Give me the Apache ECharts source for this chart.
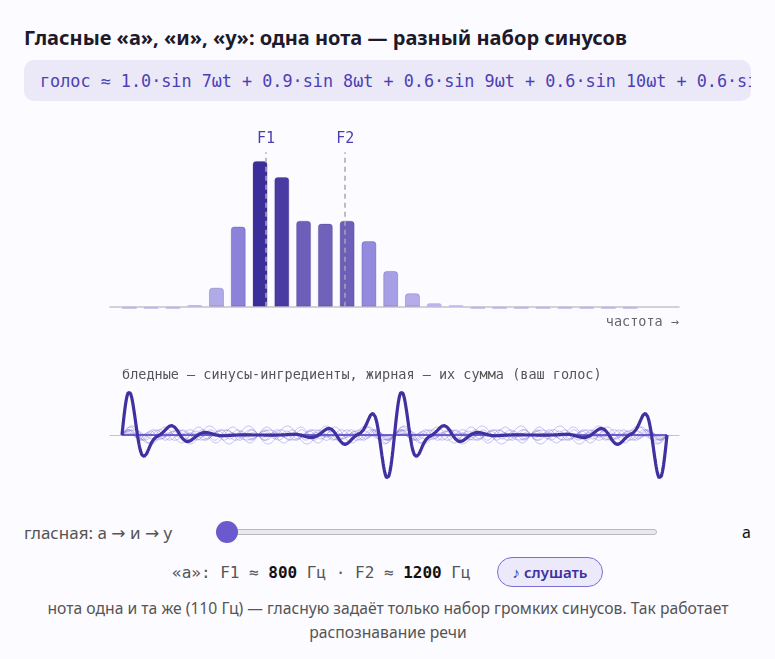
<!DOCTYPE html>
<html>
<head>
<meta charset="utf-8">
<script src="https://cdn.jsdelivr.net/npm/echarts@6/dist/echarts.min.js"></script>
<style>
  body { margin: 0; background: #fcfbff; width: 775px; height: 659px; overflow: hidden; position: relative; font-family: "Noto Sans", sans-serif; }
  .abs { position: absolute; white-space: nowrap; }
  .arr { font-family: "DejaVu Sans", sans-serif; }
  #title { left: 24px; top: 27px; line-height: 22px; font-size: 20px; font-weight: 700; color: #1c1a2b; }
  #formula { left: 24px; top: 60px; width: 727px; height: 41px; border-radius: 10px; background: #ebe8f8; overflow: hidden; }
  #formula span { position: absolute; left: 16px; top: 11px; line-height: 20px; font-size: 16.8px; font-family: "DejaVu Sans Mono", monospace; color: #4b3fb5; white-space: nowrap; }
  #chart { left: 0; top: 105px; width: 775px; height: 400px; }
  #vlabel { left: 24px; top: 521px; line-height: 24px; font-size: 17px; color: #555; }
  #track { left: 222px; top: 529px; width: 433px; height: 4px; border: 1px solid #b8b8c2; border-radius: 3px; background: #e8e8ee; }
  #thumb { left: 216px; top: 521px; width: 22px; height: 22px; border-radius: 50%; background: #6a5acd; }
  #vval { left: 742px; top: 521px; line-height: 22px; font-size: 16px; color: #111; }
  #formants { left: 172px; top: 562px; line-height: 22px; font-size: 16px; font-family: "DejaVu Sans Mono", monospace; color: #555; }
  #formants b { color: #111; }
  #play { left: 497px; top: 557px; width: 104px; height: 28px; border: 1.5px solid #7b6fd6; border-radius: 16px; background: #ece9fa;
          text-align: center; line-height: 28px; font-size: 15px; font-weight: 600; color: #3d32a0; }
  #note { left: 24px; top: 596px; width: 728px; text-align: center; line-height: 24px; font-size: 15.7px; color: #555; white-space: normal; }
</style>
</head>
<body>
<div id="title" class="abs">Гласные «а», «и», «у»: одна нота — разный набор синусов</div>
<div id="formula" class="abs"><span>голос ≈ 1.0·sin 7ωt + 0.9·sin 8ωt + 0.6·sin 9ωt + 0.6·sin 10ωt + 0.6·sin 11ωt + 0.5·sin 6ωt + …</span></div>
<div id="chart" class="abs"></div>
<div id="vlabel" class="abs">гласная: а <span class="arr">→</span> и <span class="arr">→</span> у</div>
<div id="track" class="abs"></div>
<div id="thumb" class="abs"></div>
<div id="vval" class="abs">а</div>
<div id="formants" class="abs">«а»: F1 ≈ <b>800</b> Гц · F2 ≈ <b>1200</b> Гц</div>
<div id="play" class="abs">♪ слушать</div>
<div id="note" class="abs">нота одна и та же (110 Гц) — гласную задаёт только набор громких синусов. Так работает распознавание речи</div>

<script>
// harmonics of the 110 Hz note and their loudness for vowel "а"
var f0 = 110;
var harmonics = [1, 2, 3, 4, 5, 6, 7, 8, 9, 10, 11, 12, 13, 14, 15, 16, 17, 18, 19, 20, 21, 22, 23, 24];
var amps = [-0.015, -0.015, -0.015, 0.012, 0.13, 0.55, 1.0, 0.89, 0.59, 0.57, 0.59, 0.45, 0.245, 0.092, 0.023, 0.01,
            -0.015, -0.015, -0.015, -0.015, -0.015, -0.015, -0.015, -0.015];
var formantNames = ["F1", "F2"];
var formantHz = [800, 1200];

function mix(c1, c2, t) {
  var a = [1, 3, 5].map(function (i) { return parseInt(c1.substr(i, 2), 16); });
  var b = [1, 3, 5].map(function (i) { return parseInt(c2.substr(i, 2), 16); });
  return "rgb(" + a.map(function (v, k) { return Math.round(v + (b[k] - v) * t); }).join(",") + ")";
}
function barColor(a) {
  a = Math.max(a, 0);
  if (a >= 0.56) return mix("#7163bb", "#3c2e9a", (a - 0.56) / 0.44);
  return mix("#bdb6ee", "#8c82da", a / 0.55);
}

// waveform: each harmonic as a sine, plus their sum, over two periods
var N = 960;
var tt = [];
for (var k = 0; k <= N; k++) tt.push(2 * k / N);
var sum = tt.map(function (t) {
  var s = 0;
  harmonics.forEach(function (h, i) { s += Math.max(amps[i], 0) * Math.sin(2 * Math.PI * h * t); });
  return s;
});
var maxAbs = Math.max.apply(null, sum.map(Math.abs));

var waveSeries = harmonics.map(function (h, i) {
  return {
    type: "line", xAxisIndex: 1, yAxisIndex: 1, showSymbol: false, silent: true,
    lineStyle: { width: 1, color: "rgba(106,90,205,0.34)" },
    data: tt.map(function (t) { return [t, Math.max(amps[i], 0) * Math.sin(2 * Math.PI * h * t) / maxAbs]; })
  };
});
waveSeries.push({
  type: "line", xAxisIndex: 1, yAxisIndex: 1, showSymbol: false, silent: true, z: 5,
  lineStyle: { width: 3.2, color: "#3f319f" },
  data: tt.map(function (t, k) { return [t, sum[k] / maxAbs]; })
});

var mono = "DejaVu Sans Mono";
var chart = echarts.init(document.getElementById("chart"));
var option = {
  animation: false,
  title: {
    text: "бледные — синусы-ингредиенты, жирная — их сумма (ваш голос)",
    left: 122, top: 263, padding: 0,
    textStyle: { fontFamily: mono, fontSize: 13.5, fontWeight: "normal", color: "#555" }
  },
  grid: [
    { left: 110, width: 569, top: 41.4, height: 174.8 },
    { left: 110, width: 569, top: 278, height: 104 }
  ],
  xAxis: [
    {
      type: "value", gridIndex: 0, min: 0.11, max: 26.24,
      axisLine: { lineStyle: { color: "#c4c4c8", width: 1.5 } },
      axisTick: { show: false }, axisLabel: { show: false }, splitLine: { show: false },
      name: "частота →", nameLocation: "end", nameGap: 0,
      nameTextStyle: { align: "right", verticalAlign: "top", padding: [9, 0, 0, 0], fontFamily: mono, fontSize: 13.5, color: "#666" }
    },
    {
      type: "value", gridIndex: 1, min: -0.044, max: 2.044,
      axisLine: { lineStyle: { color: "#c4c4c8", width: 1 } },
      axisTick: { show: false }, axisLabel: { show: false }, splitLine: { show: false }
    }
  ],
  yAxis: [
    { type: "value", gridIndex: 0, min: -0.1, max: 1.1, show: false },
    { type: "value", gridIndex: 1, min: -1.2, max: 1.2, show: false }
  ],
  series: [
    {
      type: "bar", xAxisIndex: 0, yAxisIndex: 0, barWidth: 15, silent: true,
      itemStyle: { borderRadius: [3, 3, 0, 0] },
      data: harmonics.map(function (h, i) {
        return { value: [h, amps[i]], itemStyle: { color: barColor(amps[i]), borderColor: "rgba(50,38,130,0.25)", borderWidth: amps[i] > 0.05 ? 1 : 0 } };
      }),
      markLine: {
        symbol: "none", silent: true,
        lineStyle: { type: [5, 4], color: "#a8a8ae", width: 1.5 },
        label: { position: "end", distance: 6, fontFamily: mono, fontSize: 15, color: "#4a3fb0" },
        data: formantHz.map(function (f, i) {
          return [{ coord: [f / f0, 0] }, { coord: [f / f0, 1.06], label: { formatter: formantNames[i] } }];
        })
      }
    }
  ].concat(waveSeries)
};
chart.setOption(option);
</script>
</body>
</html>
